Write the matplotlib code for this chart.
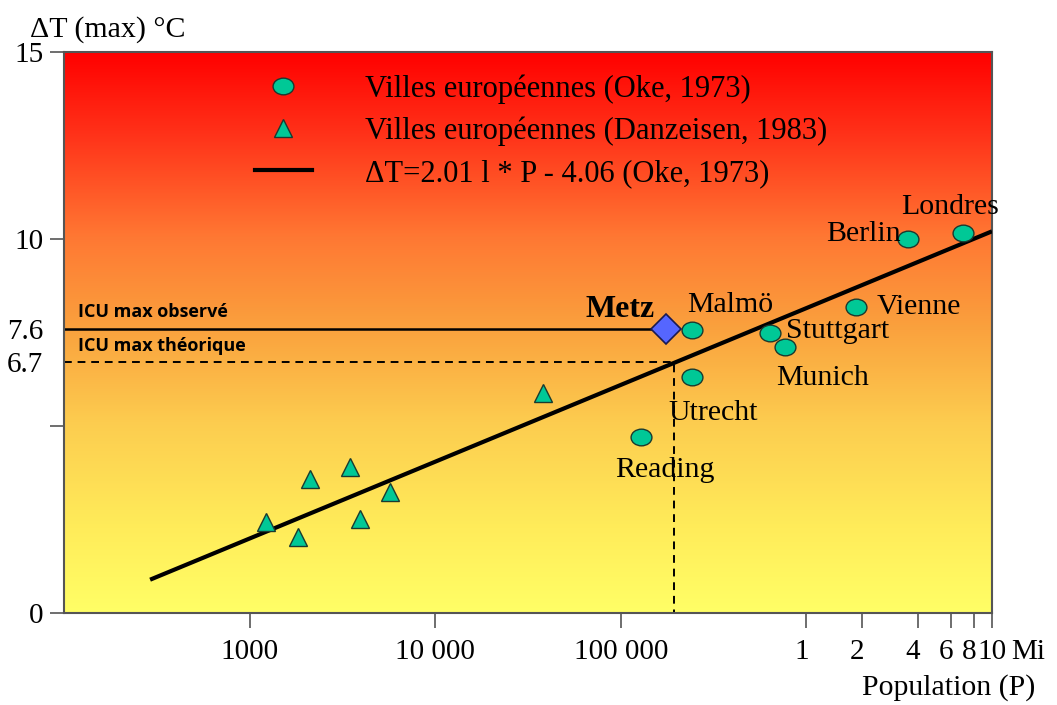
import numpy as np
import matplotlib
matplotlib.use("Agg")
import matplotlib.pyplot as plt
from matplotlib.colors import LinearSegmentedColormap
from matplotlib.path import Path
from matplotlib.lines import Line2D
from matplotlib.transforms import ScaledTranslation

plt.rcParams['font.family'] = ['Liberation Serif', 'DejaVu Serif']

# Oke (1973) cities
oke_names = ["Londres", "Berlin", "Vienne", "Stuttgart", "Munich", "Malmö", "Utrecht", "Reading"]
oke_pop = [6.94e6, 3.54e6, 1.85e6, 6.4e5, 7.7e5, 2.42e5, 2.42e5, 1.28e5]
oke_dt = [10.16, 10.0, 8.18, 7.49, 7.11, 7.57, 6.31, 4.71]

# Danzeisen (1983) cities
dan_pop = [1222, 1807, 2114, 3483, 3917, 5717, 37970]
dan_dt = [2.44, 2.04, 3.58, 3.89, 2.51, 3.24, 5.89]

# regression line as drawn
fit_pop = [290, 1e7]
fit_dt = [0.89, 10.2]

# Metz
metz_pop = 1.75e5
metz_obs = 7.6
metz_theo_pop = 1.94e5
metz_theo = 6.7

x_ticks = [1e3, 1e4, 1e5, 1e6, 2e6, 4e6, 6e6, 8e6, 1e7]
x_labels = ["1000", "10 000", "100 000", "1", "2", "4", "6", "8", "10"]

# label offsets in pixels (dx, dy) from marker
label_off = {"Londres": (-13, 26), "Berlin": (-45, 5), "Vienne": (63, 0),
             "Stuttgart": (67, 2), "Munich": (37, -31), "Malmö": (38, 25),
             "Utrecht": (21, -36), "Reading": (24, -33)}

fig = plt.figure(figsize=(10.57, 7.05), dpi=100)
rect = [64.3 / 1057, 92 / 705, 927.7 / 1057, 561.3 / 705]

# gradient background
bg = fig.add_axes(rect, zorder=0)
cmap = LinearSegmentedColormap.from_list("heat", [
    (0.0, (1.0, 0.0, 0.0)),
    (0.15, (1.0, 0.2, 0.1)),
    (0.33, (1.0, 0.47, 0.2)),
    (0.49, (0.98, 0.63, 0.24)),
    (0.66, (0.99, 0.8, 0.31)),
    (0.84, (1.0, 0.92, 0.35)),
    (1.0, (1.0, 1.0, 0.4)),
])
grad = np.linspace(0, 1, 256).reshape(-1, 1)
bg.imshow(grad, aspect='auto', cmap=cmap, extent=[0, 1, 0, 1])
bg.set_axis_off()

ax = fig.add_axes(rect, zorder=1)
ax.patch.set_alpha(0)
ax.set_xscale('log')
ax.set_xlim(100, 1e7)
ax.set_ylim(0, 15)

px = 0.72  # points per pixel

# reference lines for Metz
ax.plot([100, metz_pop], [metz_obs, metz_obs], color='black', lw=1.8, zorder=2)
ax.plot([100, metz_theo_pop, metz_theo_pop], [metz_theo, metz_theo, 0], color='black',
        lw=1.4, ls=(0, (4, 3)), zorder=2)

ax.plot(fit_pop, fit_dt, color='black', lw=3, zorder=3, solid_capstyle='butt')

# elliptical marker
circ = Path.unit_circle()
ell = Path(circ.vertices * np.array([1.25, 1.0]), circ.codes)
teal = '#00C896'
ax.plot(oke_pop, oke_dt, ls='none', marker=ell, ms=15, mfc=teal, mec='#1a3a30', mew=1.0, zorder=4)
ax.plot(dan_pop, dan_dt, ls='none', marker='^', ms=12.5, mfc=teal, mec='#1a3a30', mew=1.0, zorder=4)
ax.plot([metz_pop], [metz_obs], ls='none', marker='D', ms=15, mfc='#5566FF', mec='#1a1a50', mew=1.2, zorder=5)

for name, p, t in zip(oke_names, oke_pop, oke_dt):
    dx, dy = label_off[name]
    ax.annotate(name, (p, t), xytext=(dx * px, dy * px), textcoords='offset points',
                ha='center', va='center', fontsize=21.5, zorder=6)
ax.annotate("Metz", (metz_pop, metz_obs), xytext=(-46 * px, 19 * px), textcoords='offset points',
            ha='center', va='center', fontsize=23, fontweight='bold', zorder=6)

# ICU labels
ax.text(0.0145, metz_obs + 0.2, "ICU max observé", fontsize=13, fontweight='bold',
        family=['Open Sans', 'DejaVu Sans'], transform=ax.get_yaxis_transform(), va='bottom')
ax.text(0.0145, metz_theo + 0.2, "ICU max théorique", fontsize=13, fontweight='bold',
        family=['Open Sans', 'DejaVu Sans'], transform=ax.get_yaxis_transform(), va='bottom')

# axes ticks
ax.set_xticks(x_ticks)
ax.set_xticklabels(x_labels)
ax.xaxis.set_minor_locator(matplotlib.ticker.NullLocator())
ax.set_yticks([0, 5, 10, 15])
ax.set_yticklabels(["0", "", "10", "15"])
ax.set_yticks([metz_theo, metz_obs], minor=True)
ax.set_yticklabels(["6.7", "7.6"], minor=True)
ax.tick_params(axis='x', which='major', length=11, width=1.2, color='#555555', pad=8, labelsize=21)
ax.tick_params(axis='y', which='major', length=10, width=1.2, color='#555555', pad=5, labelsize=21)
ax.tick_params(axis='y', which='minor', length=0, pad=15, labelsize=21)
# small million labels sit a little left of their ticks
for lab in ax.get_xticklabels()[3:8]:
    lab.set_transform(lab.get_transform() + ScaledTranslation(-5 / 100, 0, fig.dpi_scale_trans))
ax.annotate("Mi", (1e7, 0), xycoords=('data', 'axes fraction'), xytext=(14, -19),
            textcoords='offset points', ha='left', va='top', fontsize=21)
for s in ax.spines.values():
    s.set_color('#555555')
    s.set_linewidth(1.5)

fig.text(1035 / 1057, 1 - 688 / 705, "Population (P)", ha='right', va='center', fontsize=21.5)
fig.text(30 / 1057, 1 - 30 / 705, "ΔT (max) °C", ha='left', va='center', fontsize=21.5)

# legend
handles = [
    Line2D([], [], ls='none', marker=ell, ms=15, mfc=teal, mec='#1a3a30', mew=1.0),
    Line2D([], [], ls='none', marker='^', ms=12.5, mfc=teal, mec='#1a3a30', mew=1.0),
    Line2D([], [], color='black', lw=3),
]
labels = ["Villes européennes (Oke, 1973)", "Villes européennes (Danzeisen, 1983)",
          "ΔT=2.01 l * P - 4.06 (Oke, 1973)"]
ax.legend(handles, labels, loc='upper left', bbox_to_anchor=(0.2056, 0.96), frameon=False,
          fontsize=22, handlelength=1.85, handletextpad=1.75, labelspacing=0.42,
          borderpad=0, borderaxespad=0)

fig.savefig("out.png", dpi=100)
